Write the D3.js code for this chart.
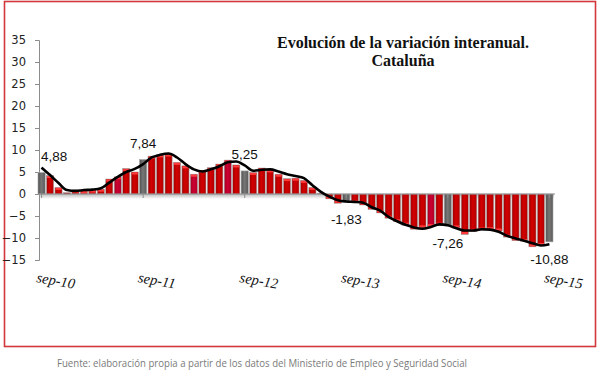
<!DOCTYPE html>
<html>
<head>
<meta charset="utf-8">
<script src="https://cdn.jsdelivr.net/npm/d3@7"></script>
<style>
  body { margin: 0; background: #fff; }
  svg { display: block; }
</style>
</head>
<body>
<div class="chart-holder"></div>
<script>
// monthly year-on-year variation, sep-10 .. sep-15
const months = d3.timeMonth.range(new Date(2010, 8, 1), new Date(2015, 9, 1));
const monthNames = ['ene','feb','mar','abr','may','jun','jul','ago','sep','oct','nov','dic'];
const monthLabel = d => monthNames[d.getMonth()] + '-' + d3.timeFormat('%y')(d);

const barValues = [
  4.88, 4.2, 1.5, 0.3, 0.9, 0.7, 0.9, 1.1, 3.4, 3.9, 5.8, 5.0,
  7.84, 8.6, 8.9, 9.1, 7.2, 6.4, 4.5, 5.4, 6.0, 6.8, 7.7, 6.6,
  5.25, 4.9, 5.9, 5.5, 4.5, 3.5, 3.6, 3.1, 1.5, 0.2, -1.1, -2.1,
  -1.83, -2.0, -2.5, -3.5, -4.3, -5.5, -6.3, -7.1, -8.0, -7.7, -7.4, -7.1,
  -7.26, -7.7, -9.2, -8.5, -8.2, -8.1, -8.4, -9.8, -10.6, -10.8, -12.0, -11.7,
  -10.88
];

// trend line (smoothed)
const trendValues = [
  6.0, 4.3, 2.5, 0.9, 0.7, 0.9, 1.0, 1.3, 2.6, 3.9, 5.0, 5.7,
  6.8, 8.3, 8.9, 9.2, 8.3, 6.8, 5.6, 5.1, 5.6, 6.3, 7.2, 7.4,
  6.5, 5.3, 5.5, 5.6, 5.1, 4.5, 4.1, 3.6, 2.0, 0.5, -0.6, -1.4,
  -1.7, -1.8, -2.0, -3.0, -3.8, -5.2, -6.2, -7.0, -7.6, -7.9, -7.5, -6.9,
  -7.1, -7.8, -8.3, -8.3, -8.0, -8.1, -8.6, -9.5, -10.1, -10.6, -11.2, -11.7,
  -11.4
];

const yTicks = [-15, -10, -5, 0, 5, 10, 15, 20, 25, 30, 35];
const xTickLabels = ['sep-10', 'sep-11', 'sep-12', 'sep-13', 'sep-14', 'sep-15'];
// months drawn in a slightly different crimson shade
const crimsonMonths = ['jun-11', 'mar-12', 'jul-12', 'jul-14'];

const data = months.map((d, i) => ({ key: monthLabel(d), bar: barValues[i], trend: trendValues[i] }));

const W = 600, H = 378;
const svg = d3.select('.chart-holder').append('svg')
  .attr('width', W).attr('height', H);

const defs = svg.append('defs');
function grad(id, stops) {
  const g = defs.append('linearGradient').attr('id', id)
    .attr('x1', 0).attr('x2', 1).attr('y1', 0).attr('y2', 0);
  stops.forEach(s => g.append('stop').attr('offset', s[0]).attr('stop-color', s[1]));
}
grad('gRed', [[0, '#9e0000'], [0.45, '#d40000'], [1, '#b00000']]);
grad('gCrim', [[0, '#a00020'], [0.45, '#cc0032'], [1, '#b00028']]);
grad('gGray', [[0, '#4e4e4e'], [0.45, '#777'], [1, '#5a5a5a']]);
const shadow = defs.append('linearGradient').attr('id', 'gShadow')
  .attr('x1', 0).attr('x2', 0).attr('y1', 0).attr('y2', 1);
shadow.append('stop').attr('offset', 0).attr('stop-color', '#bbb');
shadow.append('stop').attr('offset', 1).attr('stop-color', '#fff');

// frame
svg.append('rect').attr('x', 4.5).attr('y', 1.5).attr('width', 591).attr('height', 345)
  .attr('fill', 'none').attr('stroke', '#d2373c').attr('stroke-width', 1.6);

const x = d3.scaleBand()
  .domain(data.map(d => d.key))
  .range([38, 553])
  .paddingInner(0.15).paddingOuter(0);
const y = d3.scaleLinear().domain([-15, 35]).range([260, 40]);

// zero line shadow
svg.append('rect').attr('x', 39).attr('y', y(0)).attr('width', 515).attr('height', 5)
  .attr('fill', 'url(#gShadow)');

// y axis
const yAxis = svg.append('g')
  .attr('transform', 'translate(39,0)')
  .call(d3.axisLeft(y).tickValues(yTicks).tickSize(4).tickPadding(9));
yAxis.select('.domain').attr('stroke', '#8c8c8c');
yAxis.selectAll('.tick line').attr('stroke', '#8c8c8c');
yAxis.selectAll('.tick text')
  .attr('font-family', 'DejaVu Sans, Verdana, sans-serif')
  .attr('font-size', 11.5).attr('fill', '#222');

// bars
const bars = svg.append('g');
bars.selectAll('rect.bar')
  .data(data)
  .enter().append('rect')
  .attr('class', 'bar')
  .attr('x', d => x(d.key))
  .attr('y', d => y(Math.max(0, d.bar)))
  .attr('width', x.bandwidth())
  .attr('height', d => Math.abs(y(d.bar) - y(0)))
  .attr('fill', d => d.key.startsWith('sep') ? 'url(#gGray)'
    : crimsonMonths.includes(d.key) ? 'url(#gCrim)' : 'url(#gRed)')
  .attr('stroke', '#a8a8a8').attr('stroke-width', 0.6);

// lighter cap at the outer end of each bar
bars.selectAll('rect.cap')
  .data(data.filter(d => !d.key.startsWith('sep') && Math.abs(d.bar) > 0.5))
  .enter().append('rect')
  .attr('class', 'cap')
  .attr('x', d => x(d.key) + 0.5)
  .attr('y', d => d.bar > 0 ? y(d.bar) + 0.5 : y(d.bar) - 2.5)
  .attr('width', x.bandwidth() - 1)
  .attr('height', 2)
  .attr('fill', '#ff3b3b');

// zero line + ticks
svg.append('line').attr('x1', 39).attr('x2', 555).attr('y1', y(0)).attr('y2', y(0))
  .attr('stroke', '#8c8c8c').attr('stroke-width', 1);
svg.selectAll('line.xt')
  .data(xTickLabels)
  .enter().append('line')
  .attr('class', 'xt')
  .attr('x1', d => x(d) + x.bandwidth() / 2).attr('x2', d => x(d) + x.bandwidth() / 2)
  .attr('y1', y(0)).attr('y2', y(0) + 4)
  .attr('stroke', '#8c8c8c');

// trend line
const line = d3.line()
  .x(d => x(d.key) + x.bandwidth() / 2)
  .y(d => y(d.trend))
  .curve(d3.curveMonotoneX);
svg.append('path').datum(data)
  .attr('d', line)
  .attr('fill', 'none').attr('stroke', '#000').attr('stroke-width', 2.6)
  .attr('stroke-linejoin', 'round');

// value labels at each september
const fmt = v => d3.format('.2f')(v).replace('.', ',').replace('−', '-');
const septs = data.filter(d => xTickLabels.includes(d.key));
svg.selectAll('text.val')
  .data(septs)
  .enter().append('text')
  .attr('class', 'val')
  .attr('x', (d, i) => i === 0 ? x(d.key) + 3 : x(d.key) + x.bandwidth() / 2)
  .attr('y', d => d.bar > 0 ? y(d.bar) - 12 : y(d.bar) + 22)
  .attr('text-anchor', (d, i) => i === 0 ? 'start' : 'middle')
  .attr('font-family', 'Liberation Sans, Arial, sans-serif')
  .attr('font-size', 13.5).attr('fill', '#111')
  .text(d => fmt(d.bar));

// x labels (rotated, italic serif)
svg.selectAll('text.xl')
  .data(xTickLabels)
  .enter().append('text')
  .attr('class', 'xl')
  .attr('transform', d => `translate(${x(d) - 2},${282}) rotate(10)`)
  .attr('font-family', 'Liberation Serif, serif')
  .attr('font-style', 'italic')
  .attr('font-size', 14.5).attr('fill', '#111')
  .text(d => d);

// title
const title = svg.append('text')
  .attr('x', 403).attr('y', 48)
  .attr('text-anchor', 'middle')
  .attr('font-family', 'Liberation Serif, serif')
  .attr('font-weight', 'bold')
  .attr('font-size', 16).attr('fill', '#111');
title.append('tspan').attr('x', 403).attr('dy', 0).text('Evolución de la variación interanual.');
title.append('tspan').attr('x', 403).attr('dy', 18).text('Cataluña');

// source
svg.append('text')
  .attr('x', 57).attr('y', 367)
  .attr('font-family', 'Open Sans, sans-serif')
  .attr('font-size', 10).attr('fill', '#7a7a7a')
  .attr('textLength', 410).attr('lengthAdjust', 'spacingAndGlyphs')
  .text('Fuente: elaboración propia a partir de los datos del Ministerio de Empleo y Seguridad Social');
</script>
</body>
</html>
